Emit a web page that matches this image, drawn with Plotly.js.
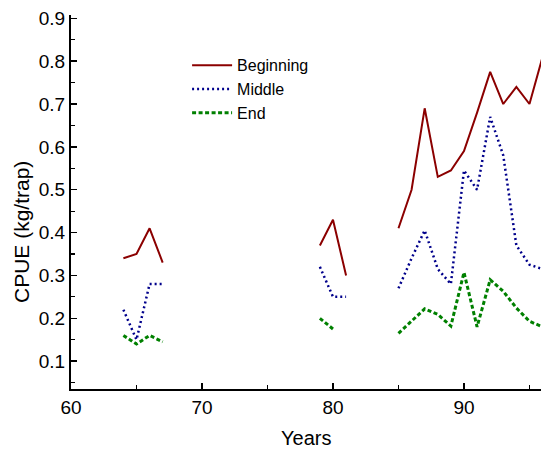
<!DOCTYPE html>
<html>
<head>
<meta charset="utf-8">
<script src="https://cdn.plot.ly/plotly-3.0.1.min.js"></script>
<style>html,body{margin:0;padding:0;background:#fff;}#chart{width:541px;height:450px;}</style>
</head>
<body>
<div id="chart"></div>
<script>
// Years (19xx); null values break the line where no survey was made
const years = [64,65,66,67,68,69,70,71,72,73,74,75,76,77,78,79,80,81,82,83,84,85,86,87,88,89,90,91,92,93,94,95,96];
const beginning = [0.34,0.35,0.41,0.33,null,null,null,null,null,null,null,null,null,null,null,0.37,0.43,0.30,null,null,null,0.41,0.50,0.69,0.53,0.545,0.59,0.68,0.775,0.70,0.74,0.70,0.81];
const middle    = [0.22,0.15,0.28,0.28,null,null,null,null,null,null,null,null,null,null,null,0.32,0.25,0.25,null,null,null,0.27,0.34,0.405,0.315,0.28,0.545,0.50,0.67,0.58,0.37,0.325,0.315];
const end       = [0.16,0.14,0.16,0.145,null,null,null,null,null,null,null,null,null,null,null,0.20,0.175,null,null,null,null,0.165,0.193,0.222,0.209,0.182,0.307,0.18,0.29,0.263,0.224,0.193,0.18];
const seriesNames = ["Beginning","Middle","End"];
const xTitle = "Years";
const yTitle = "CPUE (kg/trap)";

const font = "Liberation Sans, Arial, sans-serif";
const traces = [
  {x: years, y: beginning, name: seriesNames[0], mode: "lines", connectgaps: false,
   line: {color: "#8b0000", width: 2}},
  {x: years, y: middle, name: seriesNames[1], mode: "lines", connectgaps: false,
   line: {color: "#00008b", width: 2.5, dash: "2px,3px"}},
  {x: years, y: end, name: seriesNames[2], mode: "lines", connectgaps: false,
   line: {color: "#008000", width: 3, dash: "4px,2.5px"}}
];
const axisCommon = {
  showline: true, linecolor: "#000", linewidth: 2, mirror: false,
  showgrid: false, zeroline: false,
  ticks: "inside", ticklen: 6, tickwidth: 1.5, tickcolor: "#000",
  tickfont: {family: font, size: 19, color: "#000"}
};
const layout = {
  width: 541, height: 450,
  margin: {l: 71, r: 0, t: 15, b: 61, pad: 0},
  paper_bgcolor: "#fff", plot_bgcolor: "#fff",
  font: {family: font, color: "#000"},
  showlegend: true,
  legend: {x: 0.247, y: 0.911, xanchor: "left", yanchor: "top",
    bgcolor: "rgba(0,0,0,0)", borderwidth: 0, itemwidth: 40,
    font: {family: font, size: 16, color: "#000"}},
  xaxis: Object.assign({}, axisCommon, {
    range: [60, 95.88], tick0: 60, dtick: 10,
    minor: {dtick: 5, ticks: "inside", ticklen: 4, tickwidth: 1.2, tickcolor: "#000", showgrid: false}
  }),
  yaxis: Object.assign({}, axisCommon, {
    range: [0.035, 0.9077], tick0: 0.1, dtick: 0.1, tickformat: ".1f",
    minor: {dtick: 0.05, ticks: "inside", ticklen: 4, tickwidth: 1.2, tickcolor: "#000", showgrid: false}
  }),
  annotations: [
    {text: xTitle, xref: "paper", yref: "paper", x: 0.5, y: -0.131, xanchor: "center", yanchor: "middle",
     showarrow: false, font: {family: font, size: 20, color: "#000"}},
    {text: yTitle, xref: "paper", yref: "paper", x: -0.104, y: 0.42, xanchor: "center", yanchor: "middle",
     textangle: -90, showarrow: false, font: {family: font, size: 21, color: "#000"}}
  ]
};
Plotly.newPlot("chart", traces, layout, {staticPlot: true, displayModeBar: false});
</script>
</body>
</html>
